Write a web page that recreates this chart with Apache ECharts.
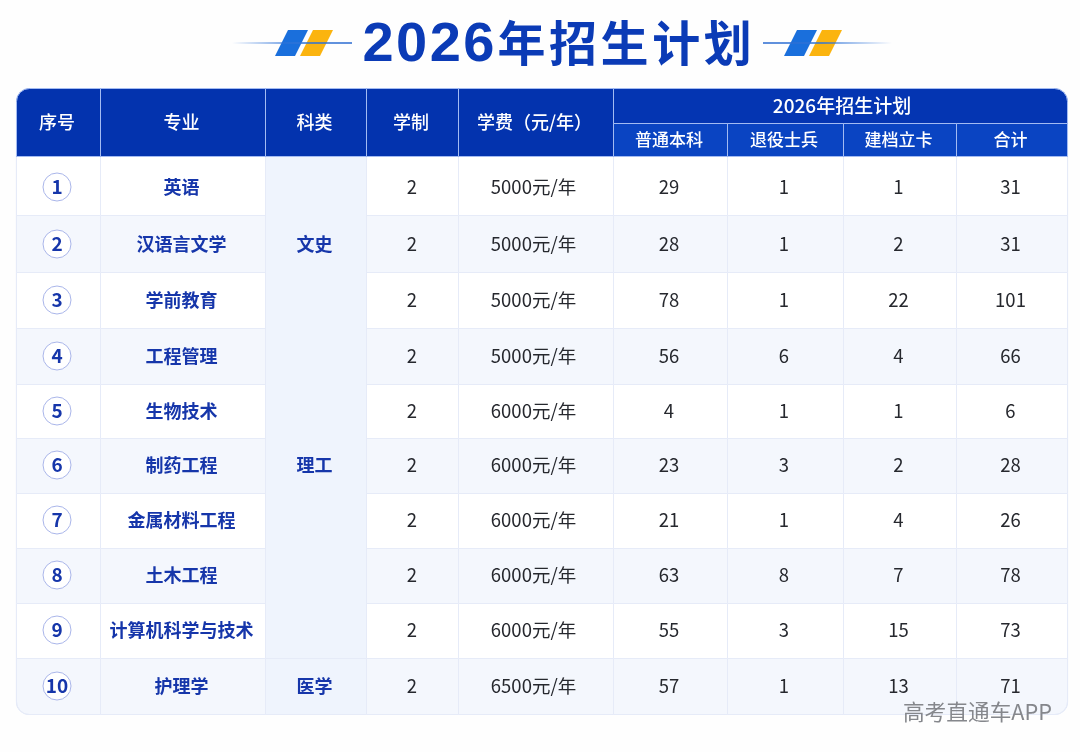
<!DOCTYPE html>
<html>
<head>
<meta charset="utf-8">
<title>2026年招生计划</title>
<style>
  html, body { margin: 0; padding: 0; background: #fefefe; }
  #main { width: 1080px; height: 752px; }
</style>
<script src="https://cdn.jsdelivr.net/npm/echarts@6/dist/echarts.min.js"></script>
</head>
<body>
<div id="main"></div>
<script>
// ---- table content ----
const pageTitle = '2026年招生计划';
const watermark = '高考直通车APP';
const leadHeaders = ['序号', '专业', '科类', '学制', '学费（元/年）'];
const groupHeader = '2026年招生计划';
const subHeaders = ['普通本科', '退役士兵', '建档立卡', '合计'];

const serials = ['1', '2', '3', '4', '5', '6', '7', '8', '9', '10'];
const majors = ['英语', '汉语言文学', '学前教育', '工程管理', '生物技术', '制药工程', '金属材料工程', '土木工程', '计算机科学与技术', '护理学'];
const years = [2, 2, 2, 2, 2, 2, 2, 2, 2, 2];
const tuition = ['5000元/年', '5000元/年', '5000元/年', '5000元/年', '6000元/年', '6000元/年', '6000元/年', '6000元/年', '6000元/年', '6500元/年'];
const regular = [29, 28, 78, 56, 4, 23, 21, 63, 55, 57];
const veterans = [1, 1, 1, 6, 1, 3, 1, 8, 3, 1];
const registered = [1, 2, 22, 4, 1, 2, 4, 7, 15, 13];
const totals = [31, 31, 101, 66, 6, 28, 26, 78, 73, 71];

// 科类 labels and the row each one sits on; the tinted band is merged over rows
const subjectLabels = [['文史', 1], ['理工', 5], ['医学', 9]];
const subjectBands = [[0, 8], [9, 9]];

// ---- layout ----
const colEdges = [16, 100, 265, 366, 458, 613, 727, 843, 956, 1067];
const colNudge = [-1, -1, -1, 0, -2, -1, -1, -1, -1];
const rowEdges = [156, 215, 272, 328, 384, 438, 493, 548, 603, 658, 714];
const rowCentres = [187, 244, 300, 356, 411, 465, 520, 575, 630, 686];
const headTop = 88, headSplit = 123, headBottom = 156;
const cornerR = 13;

const FONT = '"Noto Sans CJK SC", "Noto Sans", sans-serif';
const NAVY = '#1636aa';

// ---- build cells ----
const headCells = [];
leadHeaders.forEach((t, i) => {
    headCells.push({ box: [colEdges[i], headTop, colEdges[i + 1], headBottom], text: t, size: 18, dx: -1, fill: '#0333ae', r: i === 0 ? [cornerR, 0, 0, 0] : 0 });
});
headCells.push({ box: [colEdges[5], headTop, colEdges[9], headSplit], text: groupHeader, size: 19, dx: 2, fill: '#0435b2', r: [0, cornerR, 0, 0] });
subHeaders.forEach((t, i) => {
    headCells.push({ box: [colEdges[5 + i], headSplit, colEdges[6 + i], headBottom], text: t, size: 17, dx: -1, fill: '#0a44c2', r: 0 });
});

const bodyCells = [];
serials.forEach((s, r) => {
    const fill = r % 2 ? '#f4f7fd' : '#ffffff';
    const cols = [
        { c: 0, text: s, badge: true },
        { c: 1, text: majors[r], bold: true },
        { c: 3, text: String(years[r]) },
        { c: 4, text: tuition[r] },
        { c: 5, text: String(regular[r]) },
        { c: 6, text: String(veterans[r]) },
        { c: 7, text: String(registered[r]) },
        { c: 8, text: String(totals[r]) }
    ];
    cols.forEach(k => {
        let radius = 0;
        if (r === 9 && k.c === 0) radius = [0, 0, 0, cornerR];
        if (r === 9 && k.c === 8) radius = [0, 0, cornerR, 0];
        bodyCells.push({ box: [colEdges[k.c], rowEdges[r], colEdges[k.c + 1], rowEdges[r + 1]], text: k.text, bold: k.bold, badge: k.badge, row: r, dx: colNudge[k.c], fill, r: radius });
    });
});
subjectBands.forEach(([a, b]) => {
    bodyCells.push({ box: [colEdges[2], rowEdges[a], colEdges[3], rowEdges[b + 1]], text: '', dx: 0, fill: '#eff4fd', r: 0 });
});
subjectLabels.forEach(([label, r]) => {
    bodyCells.push({ box: [colEdges[2], rowEdges[r], colEdges[3], rowEdges[r + 1]], text: label, bold: true, row: r, dx: colNudge[2], fill: null, r: 0 });
});

function rectOf(api, box) {
    const p0 = api.coord([box[0], box[1]]);
    const p1 = api.coord([box[2], box[3]]);
    return { x: p0[0], y: p0[1], width: p1[0] - p0[0], height: p1[1] - p0[1] };
}

// half pixel shift keeps 1px strokes crisp
function crisp(rect, r) {
    return { x: rect.x + 0.5, y: rect.y + 0.5, width: rect.width, height: rect.height, r };
}

function renderHead(params, api) {
    const cell = headCells[params.dataIndex];
    const rect = rectOf(api, cell.box);
    return {
        type: 'group',
        children: [
            { type: 'rect', shape: crisp(rect, cell.r), style: { fill: cell.fill, stroke: '#a3bbf2', lineWidth: 1 } },
            {
                type: 'text',
                style: {
                    text: cell.text, x: rect.x + rect.width / 2 + cell.dx, y: rect.y + rect.height / 2,
                    align: 'center', verticalAlign: 'middle', fill: '#ffffff',
                    fontFamily: FONT, fontSize: cell.size, fontWeight: 500
                }
            }
        ]
    };
}

function renderBody(params, api) {
    const cell = bodyCells[params.dataIndex];
    const rect = rectOf(api, cell.box);
    const cx = rect.x + rect.width / 2 + cell.dx;
    const cy = cell.row === undefined ? 0 : api.coord([0, rowCentres[cell.row]])[1];
    const children = [];
    if (cell.fill) {
        children.push({ type: 'rect', shape: crisp(rect, cell.r), style: { fill: cell.fill, stroke: '#e6ebf8', lineWidth: 1 } });
    }
    if (cell.badge) {
        children.push({ type: 'circle', shape: { cx, cy, r: 14 }, style: { fill: '#ffffff', stroke: '#aab6ea', lineWidth: 1 } });
    }
    if (cell.text) {
        children.push({
            type: 'text',
            style: {
                text: cell.text, x: cx, y: cy, align: 'center', verticalAlign: 'middle',
                fill: (cell.bold || cell.badge) ? NAVY : '#26282e',
                fontFamily: FONT,
                fontSize: cell.badge ? 19 : (cell.bold ? 18 : 18.5),
                fontWeight: (cell.bold || cell.badge) ? 'bold' : 'normal'
            }
        });
    }
    return { type: 'group', children };
}

function renderFrame(params, api) {
    const rect = rectOf(api, [colEdges[0], headTop, colEdges[9], rowEdges[10]]);
    return { type: 'rect', shape: crisp(rect, cornerR), style: { fill: null, stroke: '#dbe3f6', lineWidth: 1.2 } };
}

// title glyphs get fixed-width slots since text has no letter spacing
const titleRich = pageTitle.split('').map(ch => (/\d/.test(ch) ? `{d|${ch}}` : `{c|${ch}}`)).join('');

function ornament(lineX, lineW, fadeLeft, blueX, yellowX) {
    const top = 30, bottom = 56, w = 20, slant = 13;
    const para = (x, color) => ({
        type: 'polygon', silent: true,
        shape: { points: [[x + slant, top], [x + slant + w, top], [x + w, bottom], [x, bottom]] },
        style: { fill: color }
    });
    const stops = fadeLeft
        ? [{ offset: 0, color: 'rgba(40,110,215,0)' }, { offset: 0.55, color: '#2f74d8' }, { offset: 1, color: '#2a6ad0' }]
        : [{ offset: 0, color: '#2a6ad0' }, { offset: 0.45, color: '#2f74d8' }, { offset: 1, color: 'rgba(40,110,215,0)' }];
    return [
        para(blueX, '#1a6fdc'),
        para(yellowX, '#fbb40f'),
        {
            type: 'rect', silent: true,
            shape: { x: lineX, y: 42.2, width: lineW, height: 1.6 },
            style: { fill: new echarts.graphic.LinearGradient(0, 0, 1, 0, stops) }
        }
    ];
}

const chart = echarts.init(document.getElementById('main'), null, { renderer: 'canvas' });

chart.setOption({
    backgroundColor: '#fefefe',
    animation: false,
    tooltip: { show: false },
    grid: { left: 0, top: 0, right: 0, bottom: 0 },
    xAxis: { type: 'value', min: 0, max: 1080, show: false },
    yAxis: { type: 'value', min: 0, max: 752, inverse: true, show: false },
    graphic: [
        ...ornament(232, 120, true, 275, 300),
        ...ornament(763, 129, false, 784, 809),
        {
            type: 'text', silent: true, z: 10,
            style: {
                text: titleRich, x: 361.2, y: 43, align: 'left', verticalAlign: 'middle',
                rich: {
                    d: { width: 33.6, align: 'center', padding: [5, 0, 0, 0], fontFamily: '"Liberation Sans", Arial, sans-serif', fontWeight: 'bold', fontSize: 56, fill: '#0b3bb6' },
                    c: { width: 51.6, align: 'center', fontFamily: FONT, fontWeight: 'bold', fontSize: 48, fill: '#0b3bb6' }
                }
            }
        },
        {
            type: 'text', silent: true, z: 20,
            style: {
                text: watermark, x: 1052, y: 712, align: 'right', verticalAlign: 'middle',
                fontFamily: FONT, fontSize: 21.7, fill: '#85878c'
            }
        }
    ],
    series: [
        {
            type: 'custom', name: 'body', coordinateSystem: 'cartesian2d', silent: true, z: 2,
            renderItem: renderBody,
            data: bodyCells.map(c => c.box)
        },
        {
            type: 'custom', name: 'head', coordinateSystem: 'cartesian2d', silent: true, z: 3,
            renderItem: renderHead,
            data: headCells.map(c => c.box)
        },
        {
            type: 'custom', name: 'frame', coordinateSystem: 'cartesian2d', silent: true, z: 1,
            renderItem: renderFrame,
            data: [[colEdges[0], headTop, colEdges[9], rowEdges[10]]]
        }
    ]
});
</script>
</body>
</html>
